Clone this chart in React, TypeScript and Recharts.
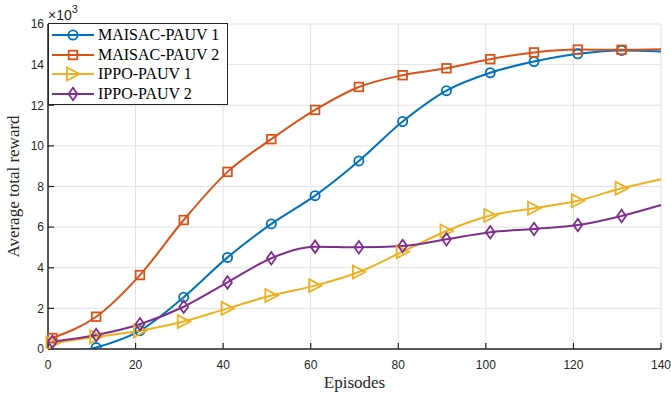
import { LineChart, Line, XAxis, YAxis, CartesianGrid, Legend } from 'recharts'

// episodes sampled every 10, plus the final episode (no marker there)
const episodes = [1, 11, 21, 31, 41, 51, 61, 71, 81, 91, 101, 111, 121, 131, 140]

// average total reward, in units of 10^3
const maisac1 = [-0.3, 0.07, 0.9, 2.55, 4.51, 6.16, 7.55, 9.26, 11.2, 12.72, 13.6, 14.15, 14.53, 14.7, 14.65]
const maisac2 = [0.54, 1.59, 3.64, 6.35, 8.72, 10.33, 11.77, 12.9, 13.48, 13.82, 14.27, 14.6, 14.74, 14.73, 14.76]
const ippo1 = [0.28, 0.6, 0.9, 1.35, 2.0, 2.63, 3.12, 3.79, 4.79, 5.81, 6.57, 6.93, 7.3, 7.91, 8.36]
const ippo2 = [0.36, 0.69, 1.22, 2.08, 3.28, 4.47, 5.04, 5.01, 5.07, 5.4, 5.75, 5.91, 6.1, 6.55, 7.09]

const xTicks = [0, 20, 40, 60, 80, 100, 120, 140]
const yTicks = [0, 2, 4, 6, 8, 10, 12, 14, 16]

type Shape = 'circle' | 'square' | 'triangle' | 'diamond'

const SERIES: { key: string; name: string; color: string; shape: Shape }[] = [
  { key: 'm1', name: 'MAISAC-PAUV 1', color: '#0072BD', shape: 'circle' },
  { key: 'm2', name: 'MAISAC-PAUV 2', color: '#D95319', shape: 'square' },
  { key: 'i1', name: 'IPPO-PAUV 1', color: '#EDB120', shape: 'triangle' },
  { key: 'i2', name: 'IPPO-PAUV 2', color: '#7E2F8E', shape: 'diamond' },
]

const data = episodes.map((ep, i) => ({
  ep,
  m1: maisac1[i],
  m2: maisac2[i],
  i1: ippo1[i],
  i2: ippo2[i],
}))

const AXIS = '#262626'
const TICK_FONT = { fill: AXIS, fontSize: 12, fontFamily: '"Liberation Sans", Arial, sans-serif' }
const SERIF = '"Liberation Serif", "Times New Roman", serif'

function marker(shape: Shape, cx: number, cy: number, color: string, key?: string) {
  const common = { stroke: color, strokeWidth: 1.8, fill: 'none', key }
  switch (shape) {
    case 'circle':
      return <circle {...common} cx={cx} cy={cy} r={4.6} />
    case 'square':
      return <rect {...common} x={cx - 4.3} y={cy - 4.3} width={8.6} height={8.6} />
    case 'triangle':
      return <polygon {...common} points={`${cx - 6},${cy - 6.5} ${cx + 6.5},${cy} ${cx - 6},${cy + 6.5}`} />
    default:
      return <polygon {...common} points={`${cx},${cy - 6.2} ${cx + 4.4},${cy} ${cx},${cy + 6.2} ${cx - 4.4},${cy}`} />
  }
}

const makeDot = (shape: Shape, color: string) => (props: any) => {
  const { cx, cy, index } = props
  if (index === episodes.length - 1 || cx == null || cy == null) return <g key={`d-${index}`} />
  return marker(shape, cx, cy, color, `d-${index}`)
}

function LegendBox() {
  return (
    <div
      style={{
        width: 178,
        height: 79,
        paddingTop: 1,
        border: `1px solid ${AXIS}`,
        background: '#fff',
        fontFamily: SERIF,
        fontSize: 16,
        color: '#000',
        boxSizing: 'content-box',
      }}
    >
      {SERIES.map((s) => (
        <div key={s.key} style={{ display: 'flex', alignItems: 'center', height: 19.7 }}>
          <svg width={49} height={20} style={{ flex: 'none' }}>
            <line x1={3} x2={45} y1={10} y2={10} stroke={s.color} strokeWidth={2} />
            {marker(s.shape, 24, 10, s.color)}
          </svg>
          <span style={{ whiteSpace: 'nowrap', lineHeight: '20px' }}>{s.name}</span>
        </div>
      ))}
    </div>
  )
}

export default function App() {
  return (
    <div style={{ position: 'absolute', left: 0, top: 0, background: '#fff' }}>
      <LineChart width={671} height={399} data={data} margin={{ top: 24, right: 10, bottom: 0, left: 0 }}>
        <CartesianGrid stroke="#e2e2e2" strokeWidth={1} />
        <XAxis
          dataKey="ep"
          type="number"
          domain={[0, 140]}
          ticks={xTicks}
          height={50}
          tickSize={-6}
          tickMargin={17}
          tick={TICK_FONT}
          axisLine={{ stroke: AXIS, strokeWidth: 1.5 }}
          tickLine={{ stroke: AXIS, strokeWidth: 1.2 }}
          label={{
            content: ({ viewBox }: any) => (
              <text
                x={viewBox.x + viewBox.width / 2}
                y={viewBox.y + 39}
                textAnchor="middle"
                fontFamily={SERIF}
                fontSize={17}
                fill={AXIS}
              >
                Episodes
              </text>
            ),
          }}
        />
        <XAxis
          xAxisId="top"
          orientation="top"
          type="number"
          domain={[0, 140]}
          ticks={xTicks}
          height={0}
          tickSize={-6}
          tick={() => <g />}
          axisLine={{ stroke: AXIS, strokeWidth: 1.5 }}
          tickLine={{ stroke: AXIS, strokeWidth: 1.2 }}
        />
        <YAxis
          type="number"
          domain={[0, 16]}
          allowDataOverflow
          ticks={yTicks}
          width={48}
          tickSize={-6}
          tickMargin={10}
          tick={TICK_FONT}
          axisLine={{ stroke: AXIS, strokeWidth: 1.5 }}
          tickLine={{ stroke: AXIS, strokeWidth: 1.2 }}
          label={{
            content: ({ viewBox }: any) => {
              const cy = viewBox.y + viewBox.height / 2
              return (
                <g>
                  <text
                    x={19}
                    y={cy}
                    transform={`rotate(-90, 19, ${cy})`}
                    textAnchor="middle"
                    fontFamily={SERIF}
                    fontSize={17}
                    fill={AXIS}
                  >
                    Average total reward
                  </text>
                  {/* axis exponent */}
                  <text x={viewBox.x + viewBox.width} y={viewBox.y - 4} fontSize={14} fill={AXIS} fontFamily={TICK_FONT.fontFamily}>
                    ×10
                    <tspan dy={-7} fontSize={11}>3</tspan>
                  </text>
                </g>
              )
            },
          }}
        />
        <YAxis
          yAxisId="right"
          orientation="right"
          type="number"
          domain={[0, 16]}
          ticks={yTicks}
          width={0}
          tickSize={-6}
          tick={() => <g />}
          axisLine={{ stroke: AXIS, strokeWidth: 1.5 }}
          tickLine={{ stroke: AXIS, strokeWidth: 1.2 }}
        />
        {SERIES.map((s) => (
          <Line
            key={s.key}
            dataKey={s.key}
            name={s.name}
            type="monotone"
            stroke={s.color}
            strokeWidth={2}
            dot={makeDot(s.shape, s.color)}
            activeDot={false}
            isAnimationActive={false}
          />
        ))}
        <Legend
          layout="vertical"
          align="center"
          verticalAlign="middle"
          wrapperStyle={{ left: 48, top: 23, width: 180, margin: 0, padding: 0 }}
          content={() => <LegendBox />}
        />
      </LineChart>
    </div>
  )
}
